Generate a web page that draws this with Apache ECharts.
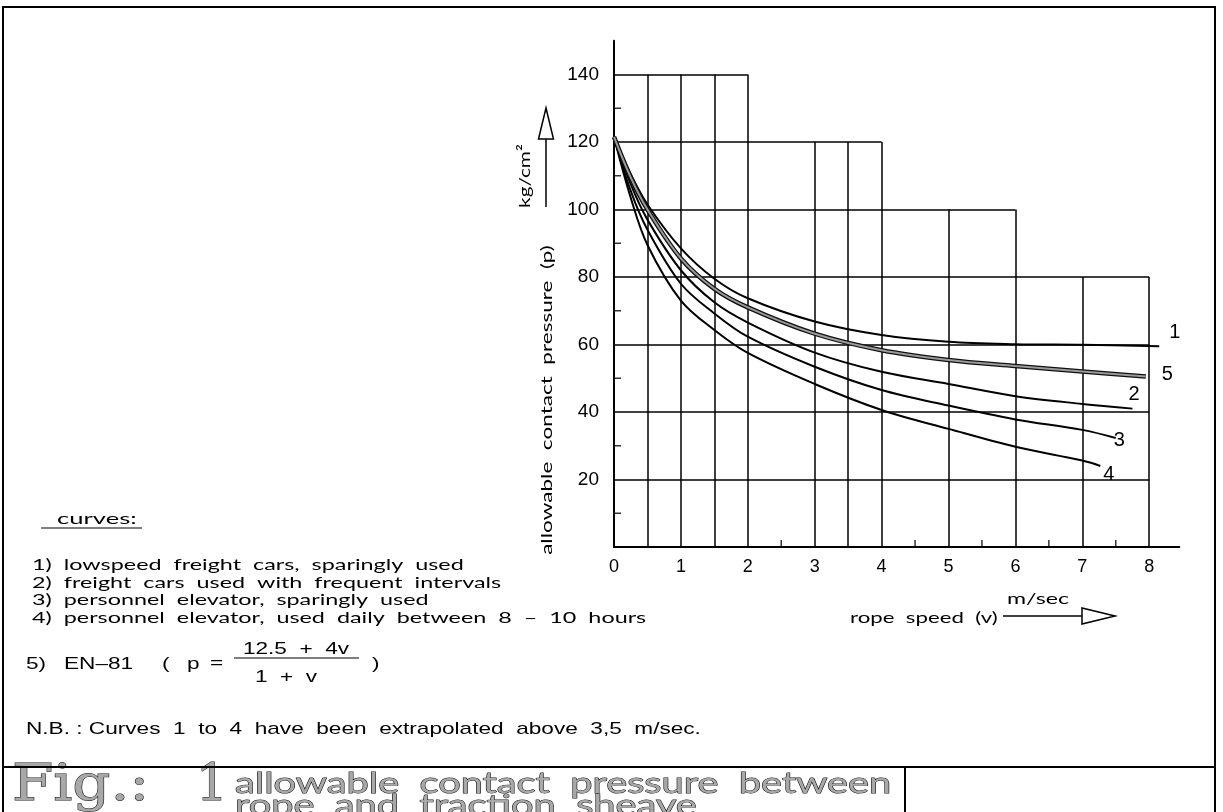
<!DOCTYPE html>
<html>
<head>
<meta charset="utf-8">
<script src="https://cdn.jsdelivr.net/npm/echarts@6/dist/echarts.min.js"></script>
<style>
  html, body { margin: 0; padding: 0; background: #fff; }
  #main { width: 1223px; height: 812px; }
</style>
</head>
<body>
<div id="main"></div>
<script>
// rope speed (m/sec) where the curves were read
var speeds = [0, 0.25, 0.5, 1, 1.5, 2, 3, 4, 5, 6, 7]
// allowable contact pressure (kg/cm²)
var curve1 = [121.5, 110.5, 101.5, 88.5, 79.5, 73.7, 66.8, 62.8, 60.8, 60.1, 59.9]
var curve2 = [121.5, 107.5, 97, 82, 72.5, 66.5, 57.6, 51.9, 48.3, 44.7, 42.4]
var curve3 = [121.5, 105.5, 94, 78, 69.2, 62.3, 53.4, 46.5, 41.9, 37.8, 34.7]
var curve4 = [121.5, 103.5, 89.5, 73, 64.3, 57.5, 48.3, 40.6, 35, 29.7, 25.6]
var curve5 = [121.5, 109.5, 100, 85.5, 76.5, 71, 63.2, 58.3, 55.4, 53.6, 52]
// where each curve stops (curve 1..5)
var endSpeed = [8.15, 7.75, 7.5, 7.27, 7.95]
var endValue = [59.5, 41, 32.3, 24, 50.5]

// stepped grid of the drawing
var vGridX = [0.5, 1, 1.5, 2, 3, 3.5, 4, 5, 6, 7, 8]
var vGridTop = [140, 140, 140, 140, 120, 120, 120, 100, 100, 80, 80]
var hGridY = [20, 40, 60, 80, 100, 120, 140]
var hGridEnd = [8, 8, 8, 8, 6, 4, 2]
var xMinor = [2.5, 4.5, 5.5, 6.5, 7.5]
var yMinor = [10, 30, 50, 70, 90, 110, 130]

var legendLines = [
  '1)  lowspeed  freight  cars,  sparingly  used',
  '2)  freight  cars  used  with  frequent  intervals',
  '3)  personnel  elevator,  sparingly  used',
  '4)  personnel  elevator,  used  daily  between  8  \u2013  10  hours'
]

function pairs(vals, i) {
  var d = speeds.map(function (v, k) { return [v, vals[k]] })
  d.push([endSpeed[i], endValue[i]])
  return d
}

var gridLines = []
vGridX.forEach(function (x, i) {
  gridLines.push({ coords: [[x, 0], [x, vGridTop[i]]] })
})
hGridY.forEach(function (y, i) {
  gridLines.push({ coords: [[0, y], [hGridEnd[i], y]] })
})

var font = 'Lato, "DejaVu Sans", sans-serif'
var axisFont = '"Liberation Sans", Arial, sans-serif'
var narrow = '"Liberation Sans Narrow", "Liberation Sans", sans-serif'

// text helper: the drawing's lettering is wide, so stretch it sideways
function txt(x, y, text, f, sx, extra) {
  var style = { text: text, font: f, fill: '#000', verticalAlign: 'middle' }
  for (var k in (extra || {})) style[k] = extra[k]
  return { type: 'text', x: x, y: y, scaleX: sx || 1, style: style, z: 50 }
}

function curve(name, data, label, offset) {
  return {
    name: name,
    type: 'line',
    smooth: 0.35,
    showSymbol: false,
    silent: true,
    z: 5,
    lineStyle: { color: '#000', width: 2 },
    endLabel: {
      show: true,
      formatter: label,
      offset: offset,
      fontSize: 20,
      fontFamily: axisFont,
      color: '#000'
    },
    data: data
  }
}

var chart = echarts.init(document.getElementById('main'), null, { renderer: 'canvas' })

var title = { fill: '#a8a8a8', stroke: '#111', lineWidth: 1 }

var option = {
  backgroundColor: '#fff',
  animation: false,
  grid: { left: 614, top: 40.75, width: 8.45 * 66.9, height: 506.25 },
  xAxis: {
    type: 'value',
    min: 0,
    max: 8.45,
    interval: 1,
    axisLine: { show: true, lineStyle: { color: '#000', width: 2 } },
    axisTick: { show: false },
    splitLine: { show: false },
    axisLabel: {
      showMaxLabel: false,
      margin: 11,
      fontSize: 18,
      fontFamily: axisFont,
      color: '#000'
    }
  },
  yAxis: {
    type: 'value',
    min: 0,
    max: 150,
    interval: 20,
    axisLine: { show: true, lineStyle: { color: '#000', width: 2 } },
    axisTick: { show: false },
    splitLine: { show: false },
    axisLabel: {
      showMaxLabel: false,
      showMinLabel: false,
      margin: 15,
      fontSize: 19,
      fontFamily: axisFont,
      color: '#000'
    }
  },
  series: [
    {
      type: 'lines',
      coordinateSystem: 'cartesian2d',
      silent: true,
      z: 2,
      lineStyle: { color: '#000', width: 1.5, opacity: 1 },
      data: gridLines
    },
    {
      type: 'scatter',
      silent: true,
      symbol: 'rect',
      symbolSize: [1.5, 7],
      symbolOffset: [0, -3.5],
      itemStyle: { color: '#000' },
      data: xMinor.map(function (x) { return [x, 0] })
    },
    {
      type: 'scatter',
      silent: true,
      symbol: 'rect',
      symbolSize: [7, 1.5],
      symbolOffset: [3.5, 0],
      itemStyle: { color: '#000' },
      data: yMinor.map(function (y) { return [0, y] })
    },
    curve('1', pairs(curve1, 0), '1', [2, -14]),
    curve('2', pairs(curve2, 1), '2', [-12, -14]),
    curve('3', pairs(curve3, 2), '3', [-10, 2]),
    curve('4', pairs(curve4, 3), '4', [-5, 8]),
    // EN-81 curve: drawn as a hollow (double) line
    {
      name: '5',
      type: 'line',
      smooth: 0.35,
      showSymbol: false,
      silent: true,
      z: 6,
      lineStyle: { color: '#111', width: 4.5 },
      endLabel: {
        show: true,
        formatter: '5',
        offset: [8, -2],
        fontSize: 20,
        fontFamily: axisFont,
        color: '#000'
      },
      data: pairs(curve5, 4)
    },
    {
      name: '5 inner',
      type: 'line',
      smooth: 0.35,
      showSymbol: false,
      silent: true,
      z: 7,
      lineStyle: { color: '#9a9a9a', width: 2 },
      data: pairs(curve5, 4)
    }
  ],
  graphic: [
    // drawing frame
    { type: 'rect', shape: { x: 3, y: 7, width: 1212, height: 820 }, style: { fill: 'none', stroke: '#000', lineWidth: 2 }, z: 100 },
    { type: 'line', shape: { x1: 3, y1: 767, x2: 1215, y2: 767 }, style: { stroke: '#000', lineWidth: 2 }, z: 100 },
    { type: 'line', shape: { x1: 905, y1: 767, x2: 905, y2: 812 }, style: { stroke: '#000', lineWidth: 2 }, z: 100 },

    // y axis name and arrow
    {
      type: 'text', x: 547, y: 400, rotation: Math.PI / 2, scaleX: 1.41,
      style: { text: 'allowable  contact  pressure  (p)', font: '16px ' + font, fill: '#000', align: 'center', verticalAlign: 'middle' }
    },
    {
      type: 'text', x: 525, y: 176, rotation: Math.PI / 2, scaleX: 1.3,
      style: { text: 'kg/cm\u00b2', font: '16px ' + font, fill: '#000', align: 'center', verticalAlign: 'middle' }
    },
    { type: 'line', shape: { x1: 546, y1: 207, x2: 546, y2: 138 }, style: { stroke: '#000', lineWidth: 1.5 } },
    { type: 'polygon', shape: { points: [[546, 108], [538.5, 139], [553.5, 139]] }, style: { fill: '#fff', stroke: '#000', lineWidth: 1.5 } },

    // x axis name and arrow
    txt(850, 618, 'rope  speed  (v)', '16px ' + font, 1.39),
    txt(1007, 599, 'm/sec', '16px ' + font, 1.45),
    { type: 'line', shape: { x1: 1003, y1: 616, x2: 1082, y2: 616 }, style: { stroke: '#000', lineWidth: 1.5 } },
    { type: 'polygon', shape: { points: [[1115, 616], [1082, 608], [1082, 624]] }, style: { fill: '#fff', stroke: '#000', lineWidth: 1.5 } },

    // legend block
    txt(57, 519, 'curves:', '16px ' + font, 1.6),
    { type: 'line', shape: { x1: 41, y1: 528, x2: 142, y2: 528 }, style: { stroke: '#000', lineWidth: 1.2 } },
    txt(32, 565, legendLines[0], '16px ' + font, 1.46),
    txt(32, 583, legendLines[1], '16px ' + font, 1.46),
    txt(32, 600, legendLines[2], '16px ' + font, 1.46),
    txt(32, 618, legendLines[3], '16px ' + font, 1.46),

    // EN-81 formula
    txt(26, 664, '5)', '17px ' + narrow, 1.33),
    txt(64, 664, 'EN\u201381', '17px ' + narrow, 1.33),
    txt(162, 664, '(', '17px ' + narrow, 1.33),
    txt(187, 664, 'p', '17px ' + narrow, 1.33),
    txt(210, 663, '=', '17px ' + narrow, 1.33),
    txt(296, 649, '12.5  +  4v', '17px ' + narrow, 1.33, { align: 'center' }),
    { type: 'line', shape: { x1: 234, y1: 658, x2: 359, y2: 658 }, style: { stroke: '#000', lineWidth: 1.2 } },
    txt(286, 677, '1  +  v', '17px ' + narrow, 1.33, { align: 'center' }),
    txt(372, 664, ')', '17px ' + narrow, 1.33),

    txt(26, 729, 'N.B. : Curves  1  to  4  have  been  extrapolated  above  3,5  m/sec.', '17px ' + narrow, 1.33),

    // title block
    txt(12, 812, 'Fig.:', '50px "DejaVu Serif", serif', 1.19, { verticalAlign: 'bottom', fill: title.fill, stroke: title.stroke, lineWidth: title.lineWidth }),
    txt(196, 812, '1', '50px "DejaVu Serif", serif', 1.0, { verticalAlign: 'bottom', fill: title.fill, stroke: title.stroke, lineWidth: title.lineWidth }),
    txt(235, 784, 'allowable  contact  pressure  between', '28px ' + font, 1.42, { fill: title.fill, stroke: title.stroke, lineWidth: 0.9 }),
    txt(235, 806, 'rope  and  traction  sheave', '28px ' + font, 1.42, { fill: title.fill, stroke: title.stroke, lineWidth: 0.9 })
  ]
}

chart.setOption(option)
</script>
</body>
</html>
